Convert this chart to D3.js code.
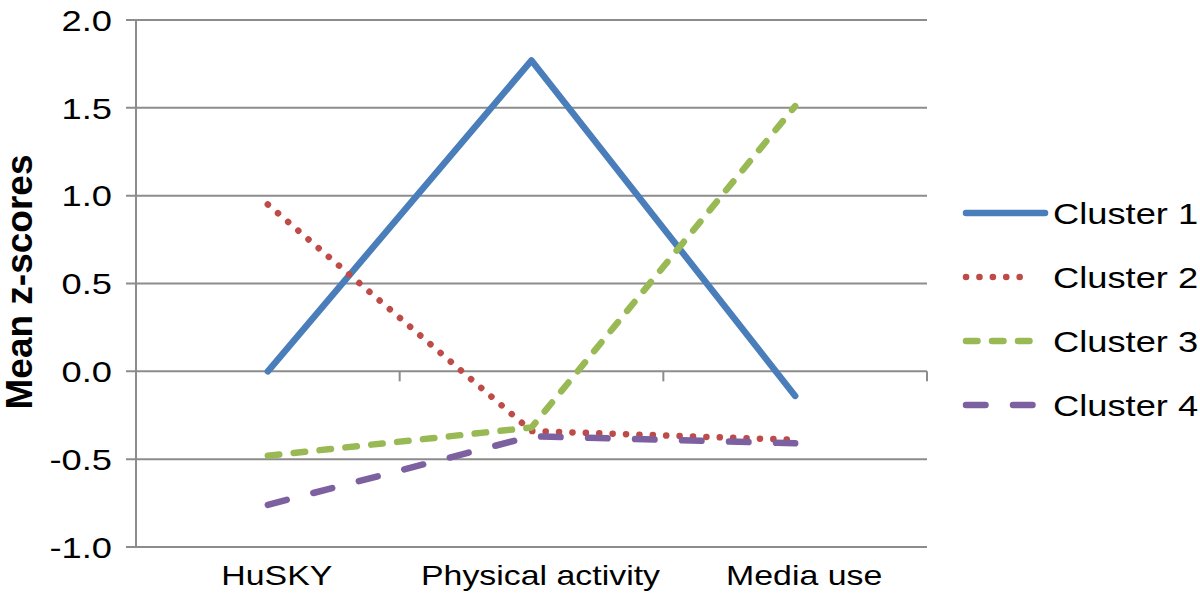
<!DOCTYPE html>
<html>
<head>
<meta charset="utf-8">
<script src="https://cdn.jsdelivr.net/npm/d3@7"></script>
<style>
  body { margin: 0; background: #fff; }
  text { font-family: "Liberation Sans", Arial, sans-serif; }
</style>
</head>
<body>
<svg width="1200" height="603"></svg>
<script>
var categories = ["HuSKY", "Physical activity", "Media use"];
var seriesNames = ["Cluster 1", "Cluster 2", "Cluster 3", "Cluster 4"];
var cluster1 = [0.0, 1.77, -0.14];
var cluster2 = [0.95, -0.34, -0.39];
var cluster3 = [-0.48, -0.32, 1.51];
var cluster4 = [-0.76, -0.37, -0.41];
var yTicks = [-1.0, -0.5, 0.0, 0.5, 1.0, 1.5, 2.0];

var series = [
  {name: seriesNames[0], values: cluster1, color: "#4a7ebb", dash: null, len: 79},
  {name: seriesNames[1], values: cluster2, color: "#be4b48", dash: "0.1,13.3", len: 67},
  {name: seriesNames[2], values: cluster3, color: "#98b954", dash: "11.5,14.5", len: 70},
  {name: seriesNames[3], values: cluster4, color: "#7d60a0", dash: "19.5,27.5", len: 70}
];

var stretch = 1.21; // text in the figure is drawn wide

var svg = d3.select("svg"),
    margin = {top: 20, right: 273, bottom: 56, left: 136},
    width = 1200 - margin.left - margin.right,
    height = 603 - margin.top - margin.bottom,
    g = svg.append("g").attr("transform", "translate(" + margin.left + "," + margin.top + ")");

var x = d3.scaleBand().domain(categories).range([0, width]);
var y = d3.scaleLinear().domain([-1, 2]).range([height, 0]);

// gridlines with tick stubs on the left
g.selectAll(".grid").data(yTicks).enter().append("line")
    .attr("x1", -10).attr("x2", width)
    .attr("y1", function(d) { return y(d); })
    .attr("y2", function(d) { return y(d); })
    .attr("stroke", "#8c8c8c").attr("stroke-width", 2);

g.append("line") // y axis
    .attr("x1", 0).attr("x2", 0).attr("y1", 0).attr("y2", height)
    .attr("stroke", "#8c8c8c").attr("stroke-width", 2);

g.selectAll(".ylab").data(yTicks).enter().append("text")
    .attr("transform", function(d) { return "translate(-24," + y(d) + ") scale(" + stretch + ",1)"; })
    .attr("dy", "0.36em")
    .attr("text-anchor", "end")
    .attr("font-size", 30)
    .text(function(d) { return d.toFixed(1); });

// category ticks on the zero line
var bounds = categories.map(function(c) { return x(c) + x.bandwidth(); });
g.selectAll(".xtick").data(bounds).enter().append("line")
    .attr("x1", function(d) { return d; }).attr("x2", function(d) { return d; })
    .attr("y1", y(0)).attr("y2", y(0) + 10)
    .attr("stroke", "#8c8c8c").attr("stroke-width", 2);

g.selectAll(".xlab").data(categories).enter().append("text")
    .attr("transform", function(d) {
      return "translate(" + (x(d) + x.bandwidth() / 2 + 9) + "," + (height + 38) + ") scale(" + stretch + ",1)";
    })
    .attr("text-anchor", "middle")
    .attr("font-size", 28)
    .text(function(d) { return d; });

svg.append("text")
    .attr("transform", "translate(32,282) rotate(-90)")
    .attr("text-anchor", "middle")
    .attr("font-size", 37)
    .attr("font-weight", "bold")
    .text("Mean z-scores");

var line = d3.line()
    .x(function(d, i) { return x(categories[i]) + x.bandwidth() / 2; })
    .y(function(d) { return y(d); });

series.forEach(function(s) {
  g.append("path")
      .datum(s.values)
      .attr("fill", "none")
      .attr("stroke", s.color)
      .attr("stroke-width", 6.5)
      .attr("stroke-linecap", "round")
      .attr("stroke-linejoin", "round")
      .attr("stroke-dasharray", s.dash)
      .attr("d", line);
});

// legend
var legend = svg.append("g").attr("transform", "translate(966,213)");
series.forEach(function(s, i) {
  var row = legend.append("g").attr("transform", "translate(0," + (i * 64) + ")");
  row.append("line")
      .attr("x1", 0).attr("x2", s.len)
      .attr("y1", 0).attr("y2", 0)
      .attr("stroke", s.color)
      .attr("stroke-width", 6.5)
      .attr("stroke-linecap", "round")
      .attr("stroke-dasharray", s.dash);
  row.append("text")
      .attr("transform", "translate(87,0) scale(" + stretch + ",1)")
      .attr("dy", "0.36em")
      .attr("font-size", 30)
      .text(s.name);
});
</script>
</body>
</html>
